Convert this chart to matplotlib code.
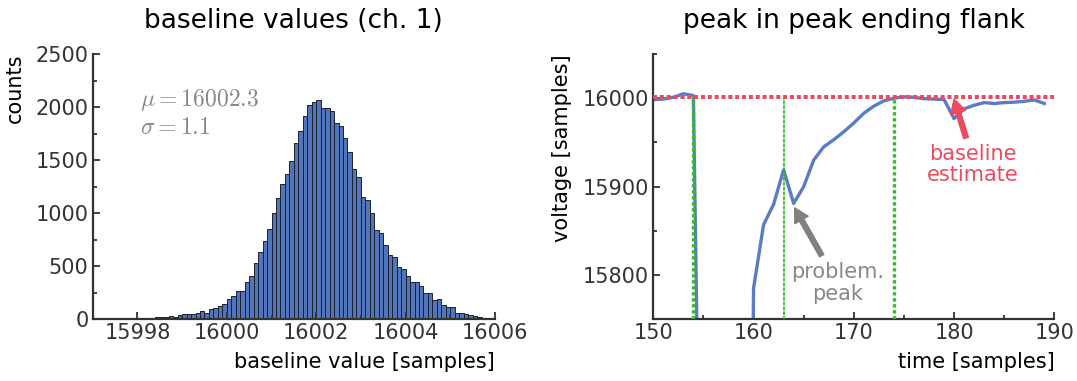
import numpy as np
import matplotlib.pyplot as plt
from matplotlib.ticker import MultipleLocator

plt.rcParams['mathtext.fontset'] = 'cm'

# histogram of baseline values, bins of 0.1 starting at 15998.1
bin_width = 0.1
bin_start = 15998.1
counts = [2, 4, 12, 17, 20, 22, 28, 25, 38, 47,
          50, 50, 57, 82, 57, 95, 104, 126, 142, 192,
          220, 268, 268, 356, 410, 530, 634, 741, 852, 1004,
          1139, 1278, 1373, 1490, 1660, 1777, 1913, 2020, 2051, 2070,
          1989, 1989, 1966, 1849, 1818, 1705, 1578, 1420, 1345, 1155,
          1123, 997, 846, 814, 704, 610, 583, 492, 470, 410,
          347, 356, 315, 246, 246, 183, 192, 135, 120, 120,
          63, 56, 50, 40, 28, 22, 15, 9, 6]
mu, sigma = 16002.3, 1.1

# trace around the peak ending flank
time = np.arange(150, 190)
voltage = [15998.5, 15999, 16001, 16005, 16003, 15250, 14200, 13700, 14100, 14600,
           15785, 15857, 15880, 15919, 15881, 15900, 15930, 15945, 15953, 15962,
           15972, 15983, 15991, 15997, 16000, 16001.5, 16001, 15999.5, 15999, 15998.5,
           15977, 15988, 15992, 15995, 15994, 15995, 15995.5, 15996.5, 15998, 15994]
baseline_estimate = 16001.5
window_marks = [154, 174]
problem_peak = 163

blue = '#4C72B0'
red = '#ec4a60'
green = '#35bb2c'
dark = '#333333'

fig = plt.figure(figsize=(10.77, 3.81), dpi=100)
ax1 = fig.add_axes([0.0861, 0.162, 0.3735, 0.6963])
ax2 = fig.add_axes([0.6066, 0.162, 0.3723, 0.6963])

edges = bin_start + bin_width * np.arange(len(counts) + 1)
centers = edges[:-1] + bin_width / 2
ax1.hist(centers, bins=edges, weights=counts, color='#5075ba',
         edgecolor='#1c2030', linewidth=0.7)
ax1.set_xlim(15997, 16006)
ax1.set_ylim(0, 2500)
ax1.ticklabel_format(axis='x', useOffset=False, style='plain')
ax1.xaxis.set_major_locator(MultipleLocator(2))
ax1.xaxis.set_minor_locator(MultipleLocator(1))
ax1.yaxis.set_major_locator(MultipleLocator(500))
ax1.yaxis.set_minor_locator(MultipleLocator(250))
ax1.text(0.118, 0.875, r'$\mu=%.1f$' % mu + '\n' + r'$\sigma=%.1f$' % sigma,
         transform=ax1.transAxes, ha='left', va='top', fontsize=17,
         color='#888888', linespacing=1.1)
ax1.set_title('baseline values (ch. 1)', fontsize=19, pad=19)
ax1.set_xlabel('baseline value [samples]', fontsize=15, loc='right', labelpad=6)
ax1.set_ylabel('counts', fontsize=15, loc='top', labelpad=8)

ax2.plot(time, voltage, color='#5a7cc4', lw=2.4, zorder=2)
ax2.axhline(baseline_estimate, color=red, lw=2.9, ls=(0, (1, 0.7)), zorder=4)
ax2.vlines(window_marks, 15750, baseline_estimate, color=green, lw=2.4,
           linestyles=[(0, (1, 0.8))], zorder=3)
ax2.vlines(problem_peak, 15750, baseline_estimate, color=green, lw=1.4,
           alpha=0.45, zorder=3)
ax2.vlines(problem_peak, 15750, baseline_estimate, color=green, lw=1.5,
           linestyles=[(0, (1, 1.3))], zorder=3)
ax2.set_xlim(150, 190)
ax2.set_ylim(15750, 16050)
ax2.xaxis.set_major_locator(MultipleLocator(10))
ax2.xaxis.set_minor_locator(MultipleLocator(5))
ax2.yaxis.set_major_locator(MultipleLocator(100))
ax2.yaxis.set_minor_locator(MultipleLocator(50))

ax2.annotate('', xy=(164.1, 15876), xytext=(166.8, 15822),
             arrowprops=dict(facecolor='#808080', edgecolor='#808080',
                             width=3.5, headwidth=11, headlength=10, shrink=0))
ax2.text(168.4, 15791, 'problem.\npeak', ha='center', va='center',
         fontsize=15, color='#888888', linespacing=1.1)
ax2.annotate('', xy=(180.0, 15999), xytext=(181.2, 15955),
             arrowprops=dict(facecolor=red, edgecolor=red,
                             width=3.5, headwidth=11, headlength=10, shrink=0))
ax2.text(181.9, 15925, 'baseline\nestimate', ha='center', va='center',
         fontsize=15, color=red, linespacing=1.1)
ax2.set_title('peak in peak ending flank', fontsize=19, pad=19)
ax2.set_xlabel('time [samples]', fontsize=15, loc='right', labelpad=6)
ax2.set_ylabel('voltage [samples]', fontsize=15, loc='top', labelpad=8)

for ax in (ax1, ax2):
    for side in ('top', 'right'):
        ax.spines[side].set_visible(False)
    for side in ('left', 'bottom'):
        ax.spines[side].set_color(dark)
        ax.spines[side].set_linewidth(1.6)
    ax.tick_params(which='both', direction='in', colors=dark, width=1.3,
                   labelsize=15, pad=3)
    ax.tick_params(which='major', length=5)
    ax.tick_params(which='minor', length=3)

fig.savefig('out.png', dpi=100)
